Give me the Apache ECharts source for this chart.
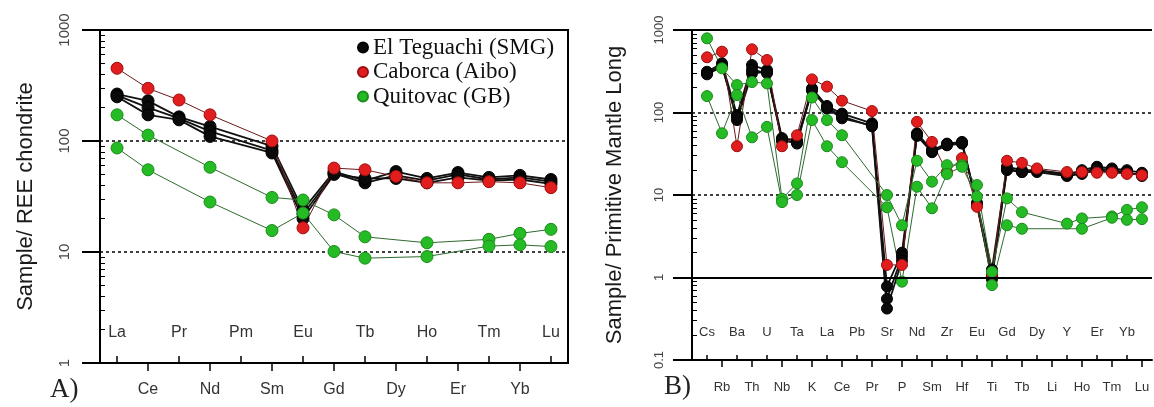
<!DOCTYPE html>
<html><head><meta charset="utf-8">
<script src="https://cdn.jsdelivr.net/npm/echarts@6/dist/echarts.min.js"></script>
<style>html,body{margin:0;padding:0;background:#fff}#c{width:1154px;height:407px}</style>
</head><body><div id="c"></div>
<script>
// ---------- Panel A: REE / chondrite ----------
const reeElements = ['La','Ce','Pr','Nd','Pm','Sm','Eu','Gd','Tb','Dy','Ho','Er','Tm','Yb','Lu'];
const reeTeguachi1 = [265, 230, 165, 135, null, 90, 24, 53, 44, 53, 46, 52, 47, 49, 45];
const reeTeguachi2 = [258, 200, 160, 122, null, 82, 22, 51, 42, 49, 44, 50, 45, 47, 43];
const reeTeguachi3 = [250, 172, 155, 110, null, 78, 20, 50, 46, 46, 42, 47, 44, 45, 41];
const reeCaborca   = [452, 298, 234, 172, null, 100, 16.5, 57, 55, 48, 42, 42, 43, 42, 38];
const reeQuitovac1 = [172, 113, null, 58, null, 31, 29.4, 21.6, 13.7, null, 12.1, null, 13.0, 14.7, 16.0];
const reeQuitovac2 = [86.5, 55, null, 28.2, null, 15.6, 22.4, 10.1, 8.8, null, 9.1, null, 11.3, 11.6, 11.2];
const reeTicks = [1, 10, 100, 1000];

// ---------- Panel B: Primitive mantle ----------
const pmElements = ['Cs','Rb','Ba','Th','U','Nb','Ta','K','La','Ce','Pb','Pr','Sr','P','Nd','Sm','Zr','Hf','Eu','Ti','Gd','Tb','Dy','Li','Y','Ho','Er','Tm','Yb','Lu'];
const pmTeguachi1 = [312, 395, 93, 376, 327, 49, 46, 196, 120, 97, null, 74, 0.78, 2.0, 56, 35, 42, 44, 8.0, 1.25, 22, 20, 20, null, 17.4, 20, 22, 21, 20, 18.6];
const pmTeguachi2 = [300, 370, 81, 298, 310, 45, 44, 185, 112, 85, null, 70, 0.55, 1.8, 52, 33, 40, 42, 7.5, 1.05, 20, 19, 19, null, 17, 18, 20, 19, 18.5, 17.5];
const pmTeguachi3 = [290, 360, 88, 330, 300, 47, 42, 190, 115, 90, null, 68, 0.42, 1.6, 54, 34, 41, 43, 7.8, 0.95, 21, 19, 20, null, 18, 19, 21, 20, 19, 17];
const pmCaborca   = [467, 546, 39, 583, 433, 39, 53, 252, 206, 139, null, 104, 1.42, 1.42, 77, 44, 19, 28, 7.2, 1.1, 26, 24.5, 21, null, 19, 19, 18.6, 18.6, 18, 17.4];
const pmQuitovac1 = [793, 343, 215, 234, 225, 9.0, 13.8, 152, 81, 53, null, null, 10, 4.3, 26, 14.5, 23, 23, 13.2, 1.17, 9.1, 6.2, null, null, 4.5, 5.2, null, 5.5, 6.6, 7.1];
const pmQuitovac2 = [158, 56, 163, 50, 67, 8.2, 10, 81, 39, 25, null, null, 7.1, 0.89, 12.6, 6.9, 18, 22, 9.6, 0.81, 4.3, 3.9, null, null, null, 3.9, null, 5.3, 5.0, 5.1];
const pmTicks = [0.1, 1, 10, 100, 1000];

const groupNames = ['El Teguachi (SMG)', 'Caborca (Aibo)', 'Quitovac (GB)'];

const SANS = 'Liberation Sans';
const SERIF = 'Liberation Serif';
const styles = {
  'El Teguachi (SMG)': {fill: '#0a0a0a', edge: '#000000', line: '#111111', lw: 1.8},
  'Caborca (Aibo)':    {fill: '#e21d1d', edge: '#9c1010', line: '#6b1a1a', lw: 1},
  'Quitovac (GB)':     {fill: '#25bb25', edge: '#1b8c1b', line: '#2f6a2f', lw: 1}
};

function line(name, vals, panel) {
  const s = styles[name];
  return {
    type: 'line', name: name,
    xAxisIndex: panel * 2, yAxisIndex: panel * 2,
    data: vals.map((v, i) => [i, v]).filter(d => d[1] != null),
    symbol: 'circle', symbolSize: panel === 0 ? 12 : 11,
    itemStyle: {color: s.fill, borderColor: s.edge, borderWidth: 1},
    lineStyle: {color: s.line, width: s.lw},
    emphasis: {disabled: true}, silent: true
  };
}

const odd = n => Array.from({length: n}, (_, i) => i).filter(i => i % 2 === 1);
const even = n => Array.from({length: n}, (_, i) => i).filter(i => i % 2 === 0);

function xAxes(gridIndex, cats, min, max, fs, tIn, tOut, mIn, mOut) {
  return [
    { type: 'value', gridIndex, position: 'bottom', min, max,
      axisLine: {show: true, onZero: false, lineStyle: {color: '#000', width: 2}},
      splitLine: {show: false},
      axisTick: {show: true, customValues: odd(cats.length), length: tOut, lineStyle: {color: '#000', width: 1.5}},
      axisLabel: {show: true, customValues: odd(cats.length), formatter: v => cats[Math.round(v)] || '',
        fontFamily: SANS, fontSize: fs, color: '#333', margin: mOut} },
    { type: 'value', gridIndex, position: 'bottom', min, max,
      axisLine: {show: false, onZero: false},
      splitLine: {show: false},
      axisTick: {show: true, inside: true, customValues: even(cats.length), length: tIn, lineStyle: {color: '#000', width: 1.5}},
      axisLabel: {show: true, inside: true, customValues: even(cats.length), formatter: v => cats[Math.round(v)] || '',
        fontFamily: SANS, fontSize: fs, color: '#333', margin: mIn} }
  ];
}

function yAxes(gridIndex, min, max, fs, margin, nameGap, title, tickLen) {
  return [
    { type: 'log', logBase: 10, gridIndex, min, max, position: 'left',
      name: title, nameLocation: 'middle', nameRotate: 90, nameGap,
      nameTextStyle: {fontFamily: SANS, fontSize: 22, color: '#1a1a1a'},
      axisLine: {show: true, onZero: false, lineStyle: {color: '#000', width: 2}},
      axisTick: {show: true, length: tickLen, lineStyle: {color: '#000', width: 2}},
      axisLabel: {rotate: 90, fontFamily: SANS, fontSize: fs, color: '#444', margin,
        formatter: v => String(v)},
      splitLine: {show: true, lineStyle: {color: '#000', type: [3, 3], width: 1.5}} },
    { type: 'log', logBase: 10, gridIndex, min, max, position: 'left', offset: 0,
      axisLine: {show: false, onZero: false},
      axisTick: {show: false, inside: true},
      axisLabel: {show: false},
      splitLine: {show: false},
      minorTick: {show: true, splitNumber: 9, length: 5, lineStyle: {color: '#000', width: 1}} }
  ];
}

const series = [];
[reeTeguachi1, reeTeguachi2, reeTeguachi3].forEach(v => series.push(line(groupNames[0], v, 0)));
series.push(line(groupNames[1], reeCaborca, 0));
[reeQuitovac1, reeQuitovac2].forEach(v => series.push(line(groupNames[2], v, 0)));
[pmTeguachi1, pmTeguachi2, pmTeguachi3].forEach(v => series.push(line(groupNames[0], v, 1)));
series.push(line(groupNames[1], pmCaborca, 1));
[pmQuitovac1, pmQuitovac2].forEach(v => series.push(line(groupNames[2], v, 1)));
// solid reference lines at 1 and 1000 in panel B
series.push({ type: 'line', xAxisIndex: 2, yAxisIndex: 2, data: [], silent: true,
  markLine: { silent: true, symbol: 'none', label: {show: false},
    lineStyle: {color: '#000', type: 'solid', width: 2},
    data: [{yAxis: pmTicks[1]}, {yAxis: pmTicks[4]}] } });

const option = {
  animation: false,
  backgroundColor: '#fff',
  grid: [
    {left: 100, top: 30, width: 468, height: 333, show: true, borderColor: '#000', borderWidth: 2, backgroundColor: 'transparent'},
    {left: 692, top: 30, width: 460, height: 330}
  ],
  xAxis: [
    ...xAxes(0, reeElements, -0.55, 14.55, 16, 7, 8, 22, 19),
    ...xAxes(1, pmElements, -1, 29.67, 13, 5, 7, 21, 21)
  ],
  yAxis: [
    ...yAxes(0, reeTicks[0], reeTicks[3], 15, 28, 63, 'Sample/ REE chondrite', 18),
    ...yAxes(1, pmTicks[0], pmTicks[4], 13, 26, 66, 'Sample/ Primitive Mantle Long', 19)
  ],
  legend: {
    data: groupNames, orient: 'vertical', left: 352, top: 31,
    itemGap: 1.5, itemWidth: 10, itemHeight: 10, icon: 'circle',
    textStyle: {fontFamily: SERIF, fontSize: 23, lineHeight: 23, color: '#111'},
    selectedMode: false
  },
  graphic: [
    {type: 'text', left: 50, top: 376, style: {text: 'A)', font: '27px "Liberation Serif"', fill: '#222'}},
    {type: 'text', left: 664, top: 373, style: {text: 'B)', font: '27px "Liberation Serif"', fill: '#222'}}
  ],
  series
};
const chart = echarts.init(document.getElementById('c'), null, {renderer: 'canvas'});
chart.setOption(option);
</script>
</body></html>
